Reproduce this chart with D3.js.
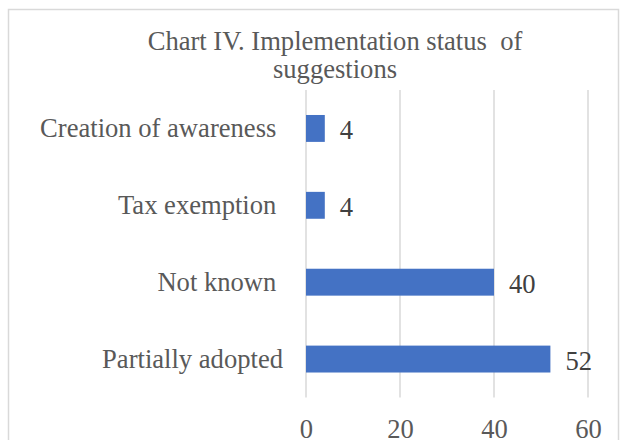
<!DOCTYPE html>
<html>
<head>
<meta charset="utf-8">
<script src="https://cdn.jsdelivr.net/npm/d3@7/dist/d3.min.js"></script>
<style>
  html, body { margin: 0; padding: 0; background: #fff; }
  svg text { font-family: "Liberation Serif", "Times New Roman", serif; white-space: pre; }
</style>
</head>
<body>
<svg id="chart" width="621" height="440"></svg>
<script>
const titleLines = ["Chart IV. Implementation status  of", "suggestions"];
const categories = ["Creation of awareness ", "Tax exemption ", "Not known ", "Partially adopted"];
const values = [4, 4, 40, 52];
const tickValues = [0, 20, 40, 60];

const svg = d3.select("#chart");
const fontSize = 26.6;
const serif = '"Liberation Serif", "Times New Roman", serif';

// frame
svg.append("rect")
  .attr("x", 8.5).attr("y", 9.5)
  .attr("width", 610).attr("height", 460)
  .attr("fill", "#fff").attr("stroke", "#d9d9d9").attr("stroke-width", 1.5);

const x = d3.scaleLinear().domain([0, 60]).range([306, 588]);
const y = d3.scaleBand().domain(categories).range([90, 397.5])
  .paddingInner(0.65).paddingOuter(0.325);

// title
svg.append("text")
  .attr("x", 335).attr("text-anchor", "middle")
  .attr("fill", "#595959").attr("font-size", fontSize)
  .style("font-family", serif)
  .selectAll("tspan").data(titleLines).join("tspan")
  .attr("x", 335).attr("y", (d, i) => 50 + i * 28)
  .text(d => d);

// gridlines
svg.append("g").selectAll("line").data(tickValues).join("line")
  .attr("x1", d => x(d)).attr("x2", d => x(d))
  .attr("y1", 90).attr("y2", 397.5)
  .attr("stroke", "#d9d9d9").attr("stroke-width", 1.5);

// x axis tick labels
const xAxis = d3.axisBottom(x).tickValues(tickValues).tickSize(0).tickPadding(0);
const xg = svg.append("g").attr("transform", "translate(0,438)").call(xAxis);
xg.attr("font-family", serif);
xg.select(".domain").remove();
xg.selectAll("text")
  .attr("dy", 0).attr("y", 0)
  .attr("font-size", fontSize).attr("fill", "#595959")
  .style("font-family", serif);

// y axis labels
const yAxis = d3.axisLeft(y).tickSize(0).tickPadding(0);
const yg = svg.append("g").attr("transform", "translate(283,0)").call(yAxis);
yg.attr("font-family", serif);
yg.select(".domain").remove();
yg.selectAll("text")
  .attr("dy", "0.34em").attr("x", 0)
  .attr("font-size", fontSize).attr("fill", "#595959")
  .style("font-family", serif);

// bars
const data = categories.map((c, i) => ({ c, v: values[i] }));
svg.append("g").selectAll("rect").data(data).join("rect")
  .attr("x", x(0))
  .attr("y", d => y(d.c))
  .attr("width", d => x(d.v) - x(0))
  .attr("height", y.bandwidth())
  .attr("fill", "#4472c4");

// value labels
svg.append("g").selectAll("text").data(data).join("text")
  .attr("x", d => x(d.v) + 15)
  .attr("y", d => y(d.c) + y.bandwidth() / 2 + 11)
  .attr("font-size", fontSize).attr("fill", "#404040")
  .style("font-family", serif)
  .text(d => d.v);
</script>
</body>
</html>
